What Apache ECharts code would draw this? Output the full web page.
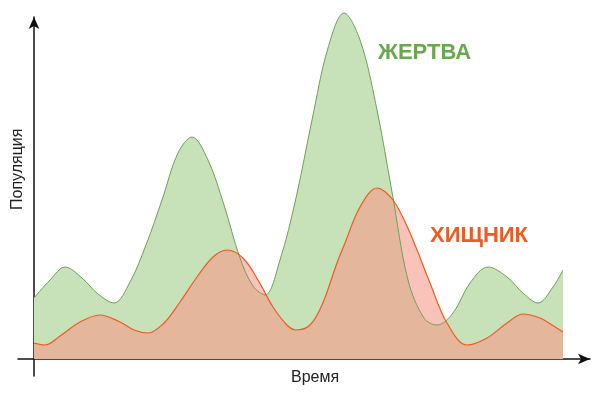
<!DOCTYPE html>
<html>
<head>
<meta charset="utf-8">
<script src="https://cdn.jsdelivr.net/npm/echarts@6/dist/echarts.min.js"></script>
<style>
html, body { margin: 0; padding: 0; background: #fff; }
#container { width: 600px; height: 398px; }
</style>
</head>
<body>
<div id="container"></div>
<script>
let chart = echarts.init(document.getElementById('container'));

// time (arbitrary units) and population
var preyTime = [0, 16, 31, 48, 64, 80, 96, 112, 128, 144, 158, 174, 190, 206, 219, 231, 246, 262, 278, 294, 310, 326, 342, 358, 374, 390, 403, 419, 436, 454, 473, 490, 504, 519, 529];
var preyPop  = [61, 79, 92, 81, 65, 56, 77, 114, 159, 206, 222, 199, 154, 101, 73, 64, 99, 161, 239, 311, 346, 319, 254, 167, 79, 41, 34, 46, 76, 92, 82, 65, 56, 72, 89];

var predTime = [0, 11, 26, 46, 66, 86, 100, 114, 130, 146, 163, 179, 193, 209, 224, 239, 253, 262, 276, 288, 303, 311, 326, 343, 359, 376, 396, 413, 433, 453, 473, 489, 506, 518, 529];
var predPop  = [16, 14, 23, 37, 44, 37, 29, 26, 36, 57, 82, 102, 109, 101, 79, 52, 34, 29, 34, 54, 96, 116, 152, 171, 159, 126, 76, 36, 14, 21, 36, 45, 41, 34, 27];

var preyName = 'ЖЕРТВА';
var predName = 'ХИЩНИК';

function pairs(xs, ys) {
    return xs.map((x, i) => [x, ys[i]]);
}

var axisStyle = {
    show: true,
    symbol: ['none', 'arrow'],
    symbolSize: [8, 12],
    lineStyle: { color: '#111', width: 1.5 }
};

var option = {
    animation: false,
    grid: { left: 18, right: 10, top: 17, bottom: 22 },
    xAxis: {
        type: 'value',
        min: -16,
        max: 556,
        axisLine: axisStyle,
        axisTick: { show: false },
        axisLabel: { show: false },
        splitLine: { show: false }
    },
    yAxis: {
        type: 'value',
        min: -17,
        max: 342,
        axisLine: axisStyle,
        axisTick: { show: false },
        axisLabel: { show: false },
        splitLine: { show: false }
    },
    series: [
        {
            name: preyName,
            type: 'line',
            smooth: 0.35,
            clip: false,
            showSymbol: false,
            lineStyle: { color: '#6f9f57', width: 1 },
            areaStyle: { color: '#c7e2b9', opacity: 1 },
            data: pairs(preyTime, preyPop)
        },
        {
            name: predName,
            type: 'line',
            smooth: 0.35,
            clip: false,
            showSymbol: false,
            lineStyle: { color: '#f05a22', width: 1.2 },
            areaStyle: { color: 'rgba(247,155,138,0.6)', opacity: 1 },
            data: pairs(predTime, predPop)
        }
    ],
    graphic: [
        {
            type: 'text', left: 378, top: 42,
            style: { text: preyName, font: 'bold 22px "Liberation Sans", Arial, sans-serif', fill: '#6aa84f' }
        },
        {
            type: 'text', left: 430, top: 225,
            style: { text: predName, font: 'bold 22px "Liberation Sans", Arial, sans-serif', fill: '#f05a23' }
        },
        {
            type: 'text', left: 291, top: 370,
            style: { text: 'Время', font: '16px "Liberation Sans", Arial, sans-serif', fill: '#222' }
        },
        {
            type: 'text', x: 10, y: 210, rotation: Math.PI / 2,
            style: { text: 'Популяция', font: '16px "Liberation Sans", Arial, sans-serif', fill: '#222' }
        }
    ]
};

chart.setOption(option);
</script>
</body>
</html>
